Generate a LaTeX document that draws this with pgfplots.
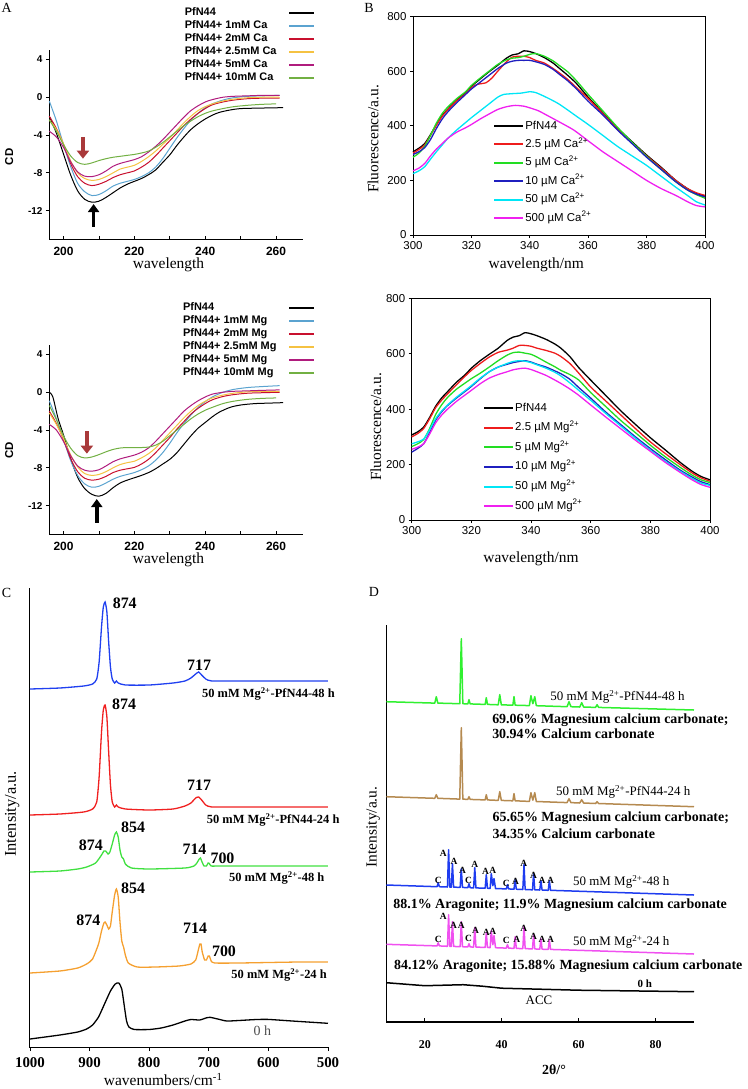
\documentclass[border=0pt]{standalone}
\usepackage{fontspec}
\setmainfont{Liberation Serif}
\setsansfont{Liberation Sans}
\usepackage{pgfplots}
\pgfplotsset{compat=1.18}
\usetikzlibrary{arrows.meta}

\definecolor{cdblue}{HTML}{5BA3D0}
\definecolor{cdred}{HTML}{C8102E}
\definecolor{cdyellow}{HTML}{F5C242}
\definecolor{cdmag}{HTML}{B01C7D}
\definecolor{cdgreen}{HTML}{72B043}
\definecolor{arrowred}{HTML}{A9393A}
\definecolor{flred}{HTML}{EE1C1C}
\definecolor{flgreen}{HTML}{22DD22}
\definecolor{flblue}{HTML}{1F1FBF}
\definecolor{flcyan}{HTML}{00E6F6}
\definecolor{flmag}{HTML}{F020F0}
\definecolor{irblue}{HTML}{2040F0}
\definecolor{irred}{HTML}{F02020}
\definecolor{irgreen}{HTML}{40E040}
\definecolor{irorange}{HTML}{F5A030}
\definecolor{xgreen}{HTML}{30F030}
\definecolor{xbrown}{HTML}{B58A50}
\definecolor{xblue}{HTML}{1E3CF0}
\definecolor{xpink}{HTML}{F050F0}

\tikzset{
  pk/.style={font=\bfseries\fontsize{16}{18}\selectfont, inner sep=0pt},
  sm/.style={font=\bfseries\fontsize{12.5}{14}\selectfont, inner sep=0pt},
  xl/.style={font=\bfseries\fontsize{9.5}{10}\selectfont, inner sep=0pt},
  panel/.style={font=\fontsize{14}{16}\selectfont, inner sep=0pt},
}

\pgfplotsset{
  panelA/.style={
    scale only axis, width=253.7bp, height=189bp,
    xmin=196, xmax=267.6, ymin=-15, ymax=5,
    axis lines*=left, axis line style={line width=0.9bp},
    xtick={200,220,240,260}, xticklabels={200,220,240,260},
    minor xtick={210,230,250},
    ytick={4,0,-4,-8,-12}, yticklabels={4,0,-4,-8,-12},
    tick align=inside, major tick length=3.5bp, minor tick length=3.5bp,
    tick style={line width=0.8bp, black},
    y tick style={xshift=-3.5bp},
    x tick label style={font=\sffamily\bfseries\fontsize{12}{14}\selectfont, yshift=-5bp},
    y tick label style={font=\sffamily\bfseries\fontsize{10}{12}\selectfont, xshift=-3.3bp},
    ylabel={CD},
    xlabel={wavelength},
    xlabel style={font=\fontsize{15.5}{17}\selectfont, at={(axis description cs:0.47,-0.1376)}, anchor=center},
    legend plot pos=right, legend cell align=left,
    legend style={draw=none, fill=none, at={(1.06,1.24)}, anchor=north east,
      font=\sffamily\bfseries\fontsize{11}{13}\selectfont, row sep=1bp,
      nodes={inner sep=1bp, text height=8bp, text depth=2bp},
      /tikz/every odd column/.append style={column sep=11bp}},
    legend image code/.code={\draw[#1, line width=1.5bp] (0bp,0bp) -- (25bp,0bp);},
    every axis plot/.append style={line width=1bp, smooth, tension=0.5},
    clip=false,
  },
  panelB/.style={
    scale only axis, xmin=300, xmax=400, ymin=0, ymax=800,
    xtick={300,320,...,400}, ytick={0,200,...,800},
    tick pos=left, tick align=outside, major tick length=3bp,
    axis line style={line width=1bp}, tick style={line width=0.8bp, black},
    tick label style={font=\sffamily\fontsize{11.5}{13}\selectfont},
    /pgf/number format/assume math mode=true,
    xlabel={wavelength/nm}, ylabel={Fluorescence/a.u.},
    label style={font=\fontsize{15.5}{17}\selectfont},
    legend cell align=left,
    legend style={draw=none, fill=none, anchor=north west,
      font=\sffamily\fontsize{11.5}{13}\selectfont,
      nodes={inner sep=1bp, text height=9bp, text depth=3bp}},
    legend image code/.code={\draw[#1, line width=2bp] (0bp,0bp) -- (29bp,0bp);},
    every axis plot/.append style={line width=1.3bp, smooth, tension=0.4},
    clip=false,
  },
}

\begin{document}
\begin{tikzpicture}
\useasboundingbox (0,0) rectangle (748bp,-1089bp);

% ---------------- A, Ca ----------------
\begin{axis}[panelA, at={(49.3bp,-239bp)}, anchor=south west,
  ylabel style={font=\sffamily\bfseries\fontsize{11.5}{13}\selectfont, at={(axis description cs:-0.158,0.435)}, anchor=center}]
\addplot[black] coordinates {(196,-2.0)(198,-3.8)(200,-6.0)(202,-8.2)(204,-9.9)(206,-10.8)(208,-11.1)(210,-11.0)(212,-10.6)(214,-10.1)(216,-9.6)(218,-9.2)(220,-8.9)(222,-8.6)(224,-8.2)(226,-7.7)(228,-6.9)(230,-6.1)(232,-5.1)(234,-4.2)(236,-3.4)(238,-2.8)(240,-2.3)(242,-1.9)(244,-1.6)(247,-1.35)(250,-1.2)(255,-1.15)(262,-1.1)};
\addplot[cdblue] coordinates {(196,-0.4)(198,-2.5)(200,-5.0)(202,-7.3)(204,-9.1)(206,-10.0)(208,-10.4)(210,-10.3)(212,-9.9)(214,-9.4)(216,-9.1)(218,-8.9)(220,-8.7)(222,-8.4)(224,-8.0)(226,-7.4)(228,-6.5)(230,-5.4)(232,-4.3)(234,-3.3)(236,-2.4)(238,-1.7)(240,-1.1)(242,-0.7)(245,-0.3)(248,-0.05)(252,0.1)(256,0.15)(261,0.2)};
\addplot[cdred] coordinates {(196,-2.0)(198,-3.3)(200,-5.0)(202,-7.0)(204,-8.4)(206,-9.1)(208,-9.35)(210,-9.2)(212,-8.9)(214,-8.5)(216,-8.2)(218,-8.0)(220,-7.8)(222,-7.4)(224,-6.9)(226,-6.2)(228,-5.4)(230,-4.6)(232,-3.8)(234,-3.0)(236,-2.3)(238,-1.7)(240,-1.2)(242,-0.8)(245,-0.5)(248,-0.3)(252,-0.15)(256,-0.1)(261,-0.1)};
\addplot[cdyellow] coordinates {(196,-2.4)(198,-3.4)(200,-4.9)(202,-6.7)(204,-8.0)(206,-8.6)(208,-8.8)(210,-8.7)(212,-8.4)(214,-8.0)(216,-7.6)(218,-7.4)(220,-7.2)(222,-6.8)(224,-6.3)(226,-5.7)(228,-5.0)(230,-4.3)(232,-3.5)(234,-2.7)(236,-2.0)(238,-1.4)(240,-1.0)(242,-0.7)(245,-0.4)(248,-0.2)(252,-0.05)(256,0)(261,0)};
\addplot[cdmag] coordinates {(196,-3.6)(198,-4.2)(200,-5.3)(202,-6.8)(204,-7.9)(206,-8.35)(208,-8.4)(210,-8.2)(212,-7.8)(214,-7.3)(216,-7.0)(218,-6.8)(220,-6.6)(222,-6.3)(224,-5.8)(226,-5.2)(228,-4.5)(230,-3.7)(232,-2.9)(234,-2.1)(236,-1.4)(238,-0.9)(240,-0.5)(242,-0.25)(245,0)(248,0.1)(252,0.15)(256,0.2)(261,0.2)};
\addplot[cdgreen] coordinates {(196,-2.4)(198,-3.6)(200,-5.0)(202,-6.2)(204,-6.9)(206,-7.1)(208,-6.95)(210,-6.7)(212,-6.5)(214,-6.35)(216,-6.25)(218,-6.15)(220,-6.05)(222,-5.9)(224,-5.7)(226,-5.3)(228,-4.8)(230,-4.2)(232,-3.6)(234,-3.0)(236,-2.5)(238,-2.05)(240,-1.7)(242,-1.45)(245,-1.2)(248,-1.0)(252,-0.85)(256,-0.75)(260,-0.7)};
\legend{PfN44, PfN44+ 1mM Ca, PfN44+ 2mM Ca, PfN44+ 2.5mM Ca, PfN44+ 5mM Ca, PfN44+ 10mM Ca}
\draw[-{Triangle[width=12bp,length=8bp]}, line width=4.5bp, arrowred] (axis cs:205.5,-4.2) -- (axis cs:205.5,-6.5);
\draw[-{Triangle[width=11bp,length=8bp]}, line width=3.5bp, black] (axis cs:208.5,-13.7) -- (axis cs:208.5,-11.3);
\end{axis}

% ---------------- A, Mg ----------------
\begin{axis}[panelA, at={(49.3bp,-534bp)}, anchor=south west,
  ylabel style={font=\sffamily\bfseries\fontsize{11.5}{13}\selectfont, at={(axis description cs:-0.158,0.444)}, anchor=center}]
\addplot[black] coordinates {(196,0)(197,-0.5)(198.5,-2.8)(200,-4.5)(202,-7.0)(204,-9.0)(206,-10.2)(208,-10.8)(210,-11.0)(212,-10.7)(214,-10.1)(216,-9.6)(218,-9.3)(220,-9.05)(222,-8.8)(224,-8.5)(226,-8.1)(228,-7.6)(230,-7.1)(232,-6.4)(234,-5.5)(236,-4.6)(238,-3.8)(240,-3.2)(242,-2.6)(244,-2.1)(247,-1.6)(250,-1.35)(254,-1.2)(258,-1.15)(262,-1.1)};
\addplot[cdblue] coordinates {(196,-0.9)(198,-2.8)(200,-5.0)(202,-7.2)(204,-8.8)(206,-9.7)(208,-10.05)(210,-9.95)(212,-9.6)(214,-9.2)(216,-8.9)(218,-8.7)(220,-8.5)(222,-8.2)(224,-7.8)(226,-7.2)(228,-6.4)(230,-5.4)(232,-4.3)(234,-3.3)(236,-2.4)(238,-1.6)(240,-1.0)(242,-0.5)(245,0)(248,0.3)(252,0.5)(256,0.6)(261,0.7)};
\addplot[cdred] coordinates {(196,-2.0)(198,-3.3)(200,-5.0)(202,-7.0)(204,-8.4)(206,-9.1)(208,-9.3)(210,-9.2)(212,-8.9)(214,-8.5)(216,-8.25)(218,-8.1)(220,-7.95)(222,-7.6)(224,-7.1)(226,-6.4)(228,-5.6)(230,-4.8)(232,-3.9)(234,-3.1)(236,-2.3)(238,-1.7)(240,-1.2)(242,-0.8)(245,-0.45)(248,-0.25)(252,-0.1)(256,-0.05)(261,0)};
\addplot[cdyellow] coordinates {(196,-2.2)(198,-3.4)(200,-4.9)(202,-6.6)(204,-7.9)(206,-8.6)(208,-8.8)(210,-8.7)(212,-8.4)(214,-8.0)(216,-7.65)(218,-7.45)(220,-7.3)(222,-6.95)(224,-6.5)(226,-5.9)(228,-5.1)(230,-4.3)(232,-3.5)(234,-2.7)(236,-2.0)(238,-1.4)(240,-0.95)(242,-0.6)(245,-0.3)(248,-0.1)(252,0.05)(256,0.1)(261,0.1)};
\addplot[cdmag] coordinates {(196,-3.4)(198,-4.0)(200,-5.2)(202,-6.7)(204,-7.8)(206,-8.25)(208,-8.35)(210,-8.2)(212,-7.8)(214,-7.35)(216,-7.05)(218,-6.85)(220,-6.65)(222,-6.35)(224,-5.9)(226,-5.2)(228,-4.4)(230,-3.6)(232,-2.8)(234,-2.0)(236,-1.4)(238,-0.9)(240,-0.5)(242,-0.2)(245,0)(248,0.1)(252,0.15)(256,0.2)(261,0.25)};
\addplot[cdgreen] coordinates {(196,-1.4)(198,-2.9)(200,-4.6)(202,-5.9)(204,-6.7)(206,-6.95)(208,-6.85)(210,-6.6)(212,-6.3)(214,-6.05)(216,-5.9)(218,-5.85)(220,-5.85)(222,-5.85)(224,-5.8)(226,-5.6)(228,-5.2)(230,-4.6)(232,-4.0)(234,-3.4)(236,-2.8)(238,-2.3)(240,-1.9)(242,-1.6)(245,-1.2)(248,-0.95)(252,-0.75)(256,-0.65)(260,-0.6)};
\legend{PfN44, PfN44+ 1mM Mg, PfN44+ 2mM Mg, PfN44+ 2.5mM Mg, PfN44+ 5mM Mg, PfN44+ 10mM Mg}
\draw[-{Triangle[width=12bp,length=8bp]}, line width=4.5bp, arrowred] (axis cs:206.6,-4.1) -- (axis cs:206.6,-6.5);
\draw[-{Triangle[width=11bp,length=8bp]}, line width=3.5bp, black] (axis cs:209.4,-13.8) -- (axis cs:209.4,-11.3);
\end{axis}

% ---------------- B, Ca ----------------
\begin{axis}[panelB, at={(413bp,-235bp)}, anchor=south west, width=292bp, height=218.3bp,
  xlabel style={at={(axis description cs:0.422,-0.137)}, anchor=center},
  ylabel style={at={(axis description cs:-0.137,0.44)}, anchor=center},
  legend style={at={(0.264,0.541)}, row sep=4.4bp}]
\addplot[black] coordinates {(300,305)(302,318)(304,335)(306,368)(308,405)(310,438)(312,462)(315,495)(318,522)(320,545)(323,572)(326,598)(329,622)(332,648)(334,660)(336,664)(338,675)(340,672)(342,665)(345,650)(348,630)(350,612)(353,585)(356,555)(360,505)(365,448)(370,392)(375,342)(380,293)(385,248)(390,200)(394,170)(397,152)(400,142)};
\addplot[flred] coordinates {(300,300)(302,313)(304,330)(306,365)(308,402)(310,435)(312,460)(315,492)(318,518)(320,540)(322,552)(325,558)(327,575)(329,600)(332,635)(334,652)(336,655)(338,655)(340,650)(342,640)(345,630)(348,610)(350,595)(353,570)(356,540)(360,500)(365,445)(370,388)(375,338)(380,290)(385,245)(390,200)(394,170)(397,155)(400,145)};
\addplot[flgreen] coordinates {(300,285)(302,300)(304,325)(306,365)(308,410)(310,445)(312,470)(315,500)(318,525)(320,548)(323,575)(326,600)(329,625)(332,642)(334,648)(336,650)(338,655)(340,662)(342,665)(345,655)(348,638)(350,622)(353,598)(356,565)(360,515)(365,455)(370,395)(375,340)(380,288)(385,240)(390,195)(394,165)(397,148)(400,135)};
\addplot[flblue] coordinates {(300,295)(302,305)(304,320)(306,350)(308,390)(310,425)(312,452)(315,485)(318,515)(320,535)(323,560)(326,585)(329,610)(332,630)(334,637)(336,640)(338,640)(340,640)(342,635)(345,625)(348,607)(350,590)(353,565)(356,535)(360,490)(365,440)(370,385)(375,335)(380,285)(385,240)(390,195)(394,165)(397,150)(400,140)};
\addplot[flcyan] coordinates {(300,225)(302,235)(304,250)(306,278)(308,305)(310,330)(312,355)(315,385)(318,412)(320,430)(323,455)(326,480)(329,505)(331,515)(334,518)(337,520)(340,525)(342,522)(345,508)(348,492)(350,480)(353,458)(356,435)(360,405)(365,365)(370,325)(375,290)(380,255)(385,215)(390,175)(394,145)(397,122)(400,110)};
\addplot[flmag] coordinates {(300,235)(302,245)(304,262)(306,290)(308,315)(310,335)(312,355)(315,377)(318,393)(320,405)(323,425)(326,443)(329,460)(332,470)(335,475)(338,472)(340,466)(343,455)(346,438)(350,415)(355,385)(360,345)(365,305)(370,270)(375,235)(380,200)(385,170)(390,145)(394,122)(397,108)(400,103)};
\legend{PfN44, 2.5 µM Ca\textsuperscript{2+}, 5 µM Ca\textsuperscript{2+}, 10 µM Ca\textsuperscript{2+}, 50 µM Ca\textsuperscript{2+}, 500 µM Ca\textsuperscript{2+}}
\end{axis}

% ---------------- B, Mg ----------------
\begin{axis}[panelB, at={(411.7bp,-520bp)}, anchor=south west, width=298.3bp, height=221.7bp,
  xlabel style={at={(axis description cs:0.4,-0.176)}, anchor=center},
  ylabel style={at={(axis description cs:-0.12,0.42)}, anchor=center},
  legend style={at={(0.229,0.546)}, row sep=5.6bp}]
\addplot[black] coordinates {(300,307)(302,318)(304,335)(306,370)(308,410)(310,440)(312,463)(315,497)(318,525)(320,548)(323,575)(326,598)(329,620)(332,648)(334,660)(336,665)(338,676)(340,672)(342,665)(345,652)(348,635)(350,620)(353,590)(356,550)(360,505)(365,450)(370,395)(375,345)(380,297)(385,253)(390,208)(394,176)(397,157)(400,145)};
\addplot[flred] coordinates {(300,300)(302,312)(304,330)(306,365)(308,405)(310,432)(312,455)(315,488)(318,520)(320,540)(323,565)(326,588)(329,605)(332,613)(334,620)(336,630)(338,630)(340,627)(342,620)(345,612)(348,602)(350,590)(353,565)(356,530)(360,480)(365,430)(370,380)(375,330)(380,282)(385,240)(390,200)(394,170)(397,152)(400,140)};
\addplot[flgreen] coordinates {(300,265)(302,275)(304,290)(306,330)(308,380)(310,415)(312,442)(315,472)(318,495)(320,510)(323,530)(326,552)(329,575)(332,595)(334,604)(336,606)(338,602)(340,598)(342,588)(345,570)(348,553)(350,540)(353,525)(356,505)(360,460)(365,410)(370,360)(375,315)(380,270)(385,228)(390,190)(394,162)(397,145)(400,135)};
\addplot[flblue] coordinates {(300,245)(302,258)(304,275)(306,315)(308,360)(310,390)(312,413)(315,440)(318,465)(320,482)(323,510)(326,535)(329,552)(332,562)(334,568)(336,572)(338,575)(340,570)(342,562)(345,552)(348,538)(350,528)(353,508)(356,478)(360,440)(365,390)(370,345)(375,300)(380,258)(385,218)(390,180)(394,155)(397,138)(400,128)};
\addplot[flcyan] coordinates {(300,275)(302,282)(304,292)(306,325)(308,365)(310,393)(312,415)(315,443)(318,468)(320,485)(323,512)(326,535)(329,552)(332,565)(334,572)(336,575)(338,573)(340,568)(342,560)(345,548)(348,533)(350,520)(353,495)(356,468)(360,432)(365,385)(370,340)(375,295)(380,252)(385,212)(390,176)(394,150)(397,133)(400,125)};
\addplot[flmag] coordinates {(300,255)(302,263)(304,275)(306,310)(308,350)(310,378)(312,400)(315,428)(318,452)(320,468)(323,492)(326,512)(329,525)(332,535)(334,542)(336,546)(338,548)(340,543)(342,535)(345,522)(348,505)(350,493)(353,473)(356,450)(360,415)(365,372)(370,330)(375,288)(380,248)(385,208)(390,172)(394,145)(397,128)(400,118)};
\legend{PfN44, 2.5 µM Mg\textsuperscript{2+}, 5 µM Mg\textsuperscript{2+}, 10 µM Mg\textsuperscript{2+}, 50 µM Mg\textsuperscript{2+}, 500 µM Mg\textsuperscript{2+}}
\end{axis}

% ---------------- C, FTIR ----------------
\begin{axis}[at={(30bp,-1047bp)}, anchor=south west, scale only axis,
  width=298bp, height=459bp,
  xmin=500, xmax=1000, x dir=reverse, ymin=0, ymax=459,
  axis line style={draw=none}, ytick=\empty,
  xtick={500,600,700,800,900,1000}, xticklabels={500,600,700,800,900,1000},
  tick pos=left, tick align=outside, major tick length=4bp,
  tick style={line width=0.9bp, black},
  x tick label style={font=\bfseries\fontsize{15}{17}\selectfont, yshift=-3bp},
  xlabel={wavenumbers/cm\textsuperscript{-1}},
  xlabel style={font=\fontsize{15.5}{17}\selectfont, at={(axis description cs:0.447,-0.071)}, anchor=center},
  ylabel={Intensity/a.u.},
  ylabel style={font=\fontsize{16.5}{18}\selectfont, at={(axis description cs:-0.06,0.508)}, anchor=center},
  every axis plot/.append style={line width=1.3bp, smooth, tension=0.35},
  clip=false]
\draw[line width=1bp] (axis description cs:0,1) -- (axis description cs:0,0) -- (axis description cs:1,0);
\addplot[irblue] coordinates {(1000,358)(950,359)(910,361)(895,363)(888,368)(884,385)(880,420)(877,440)(874,445)(871,435)(868,405)(865,380)(862,368)(858,364)(855,366)(852,364)(840,362)(800,362)(760,364)(740,366)(730,369)(722,373)(717,375)(712,372)(705,368)(695,366)(650,366)(550,366)(500,366)};
\addplot[irred] coordinates {(1000,232)(950,233)(910,235)(895,238)(888,245)(884,270)(880,315)(877,337)(874,342)(871,330)(868,295)(865,262)(862,245)(858,240)(855,242)(852,240)(840,238)(800,237)(760,238)(740,241)(730,244)(722,249)(717,250)(712,247)(705,242)(695,240)(650,240)(550,240)(500,240)};
\addplot[irgreen] coordinates {(1000,175)(950,176)(920,178)(905,180)(890,184)(880,192)(876,196)(873,196)(869,193)(866,195)(862,203)(858,212)(855,215)(852,210)(849,197)(846,190)(843,188)(840,183)(830,179)(800,178)(740,179)(725,181)(720,184)(716,188)(714,189)(712,186)(708,181)(704,181)(701,184)(699,183.5)(696,181)(680,181)(600,181)(500,181)};
\addplot[irorange] coordinates {(1000,74)(950,76)(920,79)(905,83)(895,88)(885,103)(880,116)(876,124)(874,125)(871,122)(868,118)(865,121)(862,135)(858,152)(855,158)(852,150)(849,125)(846,106)(843,100)(840,92)(835,84)(820,80)(790,80)(750,81)(730,83)(722,87)(718,96)(715,103)(713,103)(711,95)(707,87)(704,87)(701,91)(699,91)(696,86)(690,84)(650,84)(550,85)(500,85)};
\addplot[black] coordinates {(1000,8)(950,12)(920,15)(905,18)(895,22)(885,30)(875,43)(865,56)(857,63)(851,64)(846,58)(842,42)(838,26)(834,20)(825,17.5)(800,17.5)(780,19)(760,22)(740,26)(730,27.5)(715,27)(705,29)(698,29.7)(685,28)(670,26)(650,26.5)(620,27.5)(600,27.6)(560,26)(500,23.7)};
\node[pk] at (axis cs:841,444) {874};
\node[pk] at (axis cs:716.4,382) {717};
\node[sm] at (axis cs:600,353) {50 mM Mg\textsuperscript{2+}-PfN44-48 h};
\node[pk] at (axis cs:842,343) {874};
\node[pk] at (axis cs:716.4,262) {717};
\node[sm] at (axis cs:592,227) {50 mM Mg\textsuperscript{2+}-PfN44-24 h};
\node[pk] at (axis cs:898,202) {874};
\node[pk] at (axis cs:827,219.7) {854};
\node[pk] at (axis cs:724,197.7) {714};
\node[pk] at (axis cs:677,188.7) {700};
\node[sm] at (axis cs:586,168.7) {50 mM Mg\textsuperscript{2+}-48 h};
\node[pk] at (axis cs:902,127) {874};
\node[pk] at (axis cs:827,158.7) {854};
\node[pk] at (axis cs:723,118.7) {714};
\node[pk] at (axis cs:674.5,95.3) {700};
\node[sm] at (axis cs:582,72) {50 mM Mg\textsuperscript{2+}-24 h};
\node[font=\fontsize{14}{16}\selectfont, text=black!70, inner sep=0pt] at (axis cs:610,16.3) {0 h};
\end{axis}

% ---------------- D, XRD ----------------
\begin{axis}[at={(386.3bp,-1021.7bp)}, anchor=south west, scale only axis,
  width=307.7bp, height=396.7bp,
  xmin=10, xmax=90, ymin=0, ymax=396.7,
  axis line style={draw=none}, ytick=\empty,
  xtick={20,40,60,80}, xticklabels={20,40,60,80},
  tick pos=left, tick align=inside, major tick length=3.5bp,
  tick style={line width=0.9bp, black},
  x tick label style={font=\bfseries\fontsize{12}{14}\selectfont, yshift=-15bp},
  xlabel={2θ/°},
  xlabel style={font=\bfseries\fontsize{14}{16}\selectfont, at={(axis description cs:0.545,-0.12)}, anchor=center},
  ylabel={Intensity/a.u.},
  ylabel style={font=\fontsize{15.5}{17}\selectfont, at={(axis description cs:-0.043,0.491)}, anchor=center},
  every axis plot/.append style={line width=1.5bp, sharp plot, line join=round},
  clip=false]
\draw[line width=1bp] (axis description cs:0,1) -- (axis description cs:0,0);
\draw[line width=2.2bp] (axis description cs:0,0) -- (axis description cs:1,0);
\addplot[xgreen] coordinates {(10,320)(22.6,318.6)(23,325)(23.4,318.6)(29.1,318)(29.5,383)(29.9,318)(31.2,317.8)(31.5,322)(31.8,317.8)(35.7,317.3)(36,324)(36.3,317.3)(39.1,316.9)(39.5,327)(39.9,316.9)(42.9,316.5)(43.2,325)(43.5,316.5)(47.2,316.1)(47.6,326)(48.1,318)(48.6,325)(49,316)(57,315)(57.5,320)(58,315)(60.3,314.7)(60.8,319)(61.3,314.7)(64.4,314.3)(64.8,317)(65.2,314.3)(90,311.7)};
\addplot[xbrown] coordinates {(10,225)(22.6,223.4)(23,227)(23.4,223.4)(29.1,222.6)(29.5,294)(29.9,222.6)(31.2,222.3)(31.5,225)(31.8,222.3)(35.7,221.8)(36,227)(36.3,221.8)(39.1,221.3)(39.5,230)(39.9,221.3)(42.9,220.9)(43.2,228)(43.5,220.9)(47.2,220.3)(47.6,229)(48.1,221.5)(48.6,229)(49,220.2)(57,219.1)(57.5,223)(58,219.1)(60.3,218.7)(60.8,222)(61.3,218.7)(64.4,218.2)(64.8,220)(65.2,218.2)(90,215)};
\addplot[xblue] coordinates {(10,136.7)(23.2,135)(23.5,139)(23.8,135)(25.9,134.7)(26.2,172)(26.5,134.7)(26.9,134.6)(27.2,158)(27.5,134.6)(29.2,134.3)(29.5,153)(29.8,134.3)(31.2,134)(31.5,138)(31.8,134)(32.7,133.8)(33.0,154)(33.3,133.8)(35.7,133.5)(36.0,147)(36.3,133.5)(37.0,133.3)(37.3,148)(37.7,136)(38.0,143)(38.4,133.2)(41.2,132.8)(41.5,137)(41.8,132.8)(43.2,132.5)(43.5,142)(43.8,132.5)(45.5,132.2)(45.8,157)(46.1,132.2)(48.0,131.9)(48.3,148)(48.6,131.9)(49.9,131.7)(50.2,141)(50.5,131.7)(52.1,131.4)(52.4,141)(52.7,131.4)(90,126.7)};
\addplot[xpink] coordinates {(10,77.4)(23.2,75.8)(23.5,79)(23.8,75.8)(25.9,75.4)(26.2,107)(26.5,75.4)(26.9,75.3)(27.2,100)(27.5,75.3)(29.2,75)(29.5,100)(29.8,75)(31.2,74.8)(31.5,78)(31.8,74.8)(32.7,74.6)(33.0,94)(33.3,74.6)(35.7,74.3)(36.0,89)(36.3,74.3)(37.0,74.1)(37.3,91)(37.7,77)(38.0,86)(38.4,74)(41.2,73.6)(41.5,77)(41.8,73.6)(43.2,73.3)(43.5,85)(43.8,73.3)(45.5,73.1)(45.8,95)(46.1,73.1)(48.0,72.8)(48.3,87)(48.6,72.8)(49.9,72.5)(50.2,83)(50.5,72.5)(52.1,72.3)(52.4,82)(52.7,72.3)(90,67.7)};
\addplot[black] coordinates {(10,39)(15,37.5)(20,36)(25,36.5)(30,37)(35,35.5)(40,33.5)(45,33)(50,32.5)(60,31.5)(70,31)(80,30.5)(90,30)};
% phase letters, 48 h
\node[xl] at (axis cs:24.8,168.4) {A};
\node[xl] at (axis cs:27.6,160) {A};
\node[xl] at (axis cs:29.8,151.7) {A};
\node[xl] at (axis cs:23.5,141) {C};
\node[xl] at (axis cs:31.4,141) {C};
\node[xl] at (axis cs:33.0,157.7) {A};
\node[xl] at (axis cs:35.8,150) {A};
\node[xl] at (axis cs:37.7,151) {A};
\node[xl] at (axis cs:41.2,138.4) {C};
\node[xl] at (axis cs:43.6,140) {A};
\node[xl] at (axis cs:45.75,158.4) {A};
\node[xl] at (axis cs:48.3,146.7) {A};
\node[xl] at (axis cs:50.5,141.7) {A};
\node[xl] at (axis cs:52.7,141.7) {A};
% phase letters, 24 h
\node[xl] at (axis cs:24.8,105.7) {A};
\node[xl] at (axis cs:27.5,96.7) {A};
\node[xl] at (axis cs:29.5,96.7) {A};
\node[xl] at (axis cs:23.5,82.4) {C};
\node[xl] at (axis cs:31.4,83.4) {C};
\node[xl] at (axis cs:33.2,91.7) {A};
\node[xl] at (axis cs:36.0,89) {A};
\node[xl] at (axis cs:37.7,90) {A};
\node[xl] at (axis cs:41.2,81.7) {C};
\node[xl] at (axis cs:43.9,82.4) {A};
\node[xl] at (axis cs:45.75,93.4) {A};
\node[xl] at (axis cs:48.3,85.7) {A};
\node[xl] at (axis cs:50.5,82.4) {A};
\node[xl] at (axis cs:52.7,82.4) {A};
% sample texts
\node[font=\fontsize{13}{15}\selectfont, inner sep=0pt] at (axis cs:70.1,325) {50 mM Mg\textsuperscript{2+}-PfN44-48 h};
\node[font=\bfseries\fontsize{14}{16}\selectfont, inner sep=0pt, anchor=west] at (axis cs:37.5,301.7) {69.06\% Magnesium calcium carbonate;};
\node[font=\bfseries\fontsize{14}{16}\selectfont, inner sep=0pt, anchor=west] at (axis cs:37.5,288.4) {30.94\% Calcium carbonate};
\node[font=\fontsize{13}{15}\selectfont, inner sep=0pt] at (axis cs:71.6,230) {50 mM Mg\textsuperscript{2+}-PfN44-24 h};
\node[font=\bfseries\fontsize{14}{16}\selectfont, inner sep=0pt, anchor=west] at (axis cs:37.6,203.4) {65.65\% Magnesium calcium carbonate;};
\node[font=\bfseries\fontsize{14}{16}\selectfont, inner sep=0pt, anchor=west] at (axis cs:37.6,188.4) {34.35\% Calcium carbonate};
\node[font=\fontsize{13}{15}\selectfont, inner sep=0pt] at (axis cs:71.1,140) {50 mM Mg\textsuperscript{2+}-48 h};
\node[font=\bfseries\fontsize{14}{16}\selectfont, inner sep=0pt] at (axis cs:55.2,116.7) {88.1\% Aragonite; 11.9\% Magnesium calcium carbonate};
\node[font=\fontsize{13}{15}\selectfont, inner sep=0pt] at (axis cs:71.1,80) {50 mM Mg\textsuperscript{2+}-24 h};
\node[font=\bfseries\fontsize{14}{16}\selectfont, inner sep=0pt] at (axis cs:57.3,56) {84.12\% Aragonite; 15.88\% Magnesium calcium carbonate};
\node[font=\bfseries\fontsize{11}{13}\selectfont, inner sep=0pt] at (axis cs:77.2,38.4) {0 h};
\node[font=\fontsize{13}{15}\selectfont, inner sep=0pt] at (axis cs:49.7,21.7) {ACC};
\end{axis}

% panel letters
\node[panel] at (6.7bp,-7.5bp) {A};
\node[panel] at (369bp,-7.5bp) {B};
\node[panel] at (6.5bp,-593bp) {C};
\node[panel] at (374bp,-592bp) {D};
\end{tikzpicture}
\end{document}
